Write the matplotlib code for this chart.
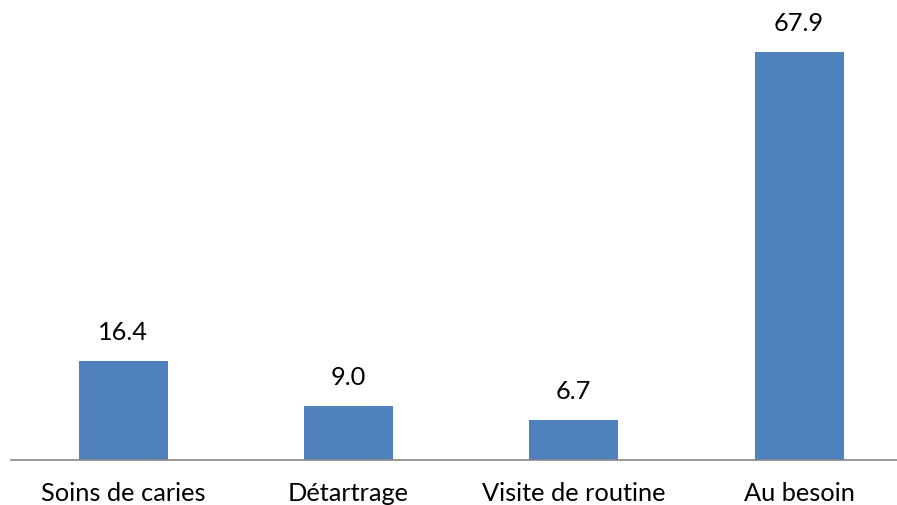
import matplotlib
matplotlib.use("Agg")
import matplotlib.pyplot as plt

categories = ["Soins de caries", "Détartrage", "Visite de routine", "Au besoin"]
values = [16.4, 9.0, 6.7, 67.9]

plt.rcParams['font.family'] = ['Lato', 'DejaVu Sans']

fig = plt.figure(figsize=(8.97, 5.06), dpi=100)
# axes placed so the category baseline sits where the reference has it
ax = fig.add_axes([10.5 / 897, 45 / 506, 1 - 10.5 / 897, 451 / 506])

x = list(range(len(categories)))
bars = ax.bar(x, values, width=0.395, color='#4F81BD')

for xi, v in zip(x, values):
    ax.annotate(f"{v:.1f}", (xi, v), xytext=(0, 13), textcoords='offset points',
                ha='center', va='bottom', fontsize=18.3, color='black')

ax.set_xlim(-0.5, -0.5 + (897 - 10.5) / 225.3)
ax.set_ylim(0, 75)
ax.set_xticks(x)
ax.set_xticklabels(categories, fontsize=18.3)
ax.tick_params(axis='x', length=0, pad=15)
ax.set_yticks([])
for side in ['top', 'right', 'left']:
    ax.spines[side].set_visible(False)
ax.spines['bottom'].set_color('#868686')
ax.spines['bottom'].set_linewidth(1.2)

fig.savefig('out.png', dpi=100)
